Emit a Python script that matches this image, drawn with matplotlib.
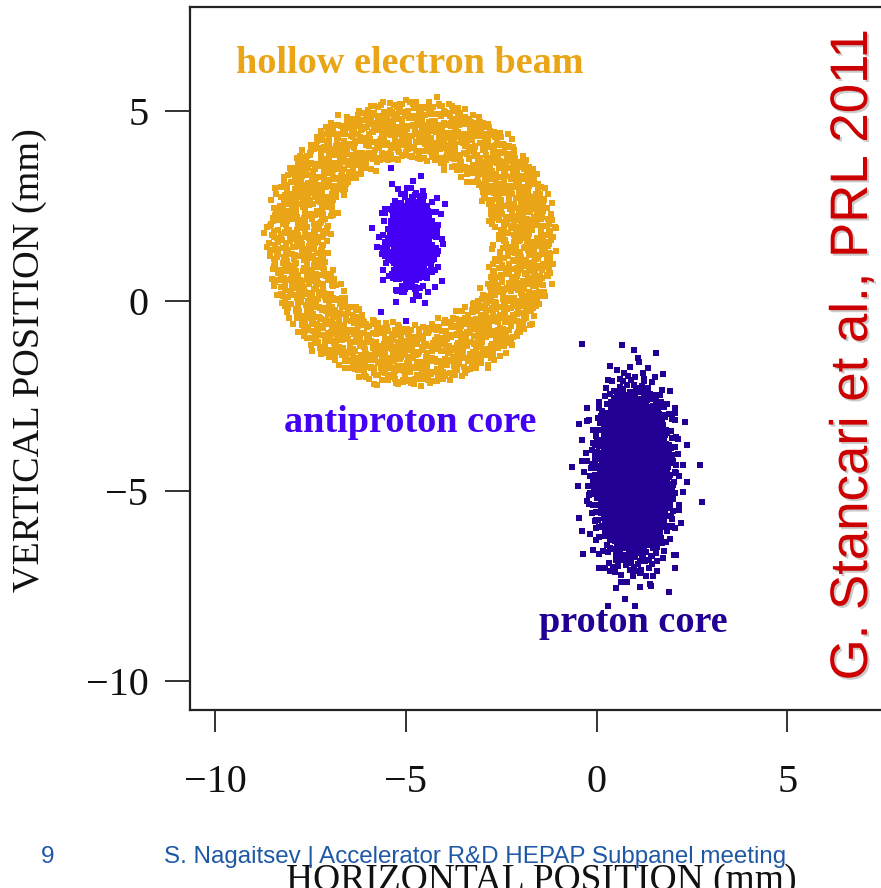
import numpy as np
import matplotlib
matplotlib.use("Agg")
import matplotlib.pyplot as plt
import matplotlib.patheffects as pe

# ---------------- data ----------------
x_ticks = [-10, -5, 0, 5]
y_ticks = [-10, -5, 0, 5]
x_tick_labels = ["\u221210", "\u22125", "0", "5"]
y_tick_labels = ["\u221210", "\u22125", "0", "5"]

# hollow electron beam (annulus): center, inner/outer radius, count
ring_center = [-4.86, 1.53]
ring_radii = [2.22, 3.74]
ring_count = 2300

# antiproton core: center, rms sizes, count
pbar_center = [-4.88, 1.55]
pbar_sigma = [0.32, 0.60]
pbar_count = 600

# proton core: center, rms sizes, count
p_center = [0.96, -4.6]
p_sigma = [0.47, 1.05]
p_count = 2200

labels = ["hollow electron beam", "antiproton core", "proton core"]
label_pos = [[-4.9, 6.25], [-4.88, -3.2], [0.95, -8.45]]

colors = {"ring": "#EAA517", "pbar": "#4300F5", "p": "#220094"}


# ---------------- deterministic low-discrepancy sampling ----------------
def halton(n, base, skip=20):
    out = np.empty(n)
    for k in range(n):
        i = k + skip
        f, r = 1.0, 0.0
        while i > 0:
            f /= base
            r += f * (i % base)
            i //= base
        out[k] = r
    return out


def gauss_cloud(n, center, sigma, skip):
    u1 = np.clip(halton(n, 2, skip), 1e-6, 1.0)
    u2 = halton(n, 3, skip)
    r = np.sqrt(-2.0 * np.log(u1))
    th = 2 * np.pi * u2
    return center[0] + sigma[0] * r * np.cos(th), center[1] + sigma[1] * r * np.sin(th)


def ring_cloud(n, center, radii, bases):
    u1 = halton(n, bases[0])
    u2 = halton(n, bases[1])
    u3 = np.clip(halton(n, bases[2]), 1e-6, 1.0)
    u4 = halton(n, bases[3])
    r = np.sqrt(u1 * (radii[1] ** 2 - radii[0] ** 2) + radii[0] ** 2)
    r = r + 0.08 * np.sqrt(-2 * np.log(u3)) * np.cos(2 * np.pi * u4)
    th = 2 * np.pi * u2
    return center[0] + r * np.cos(th), center[1] + r * np.sin(th)


rx, ry = ring_cloud(ring_count, ring_center, ring_radii, (2, 3, 5, 7))
ax_, ay_ = gauss_cloud(pbar_count, pbar_center, pbar_sigma, 1000)
px, py = gauss_cloud(p_count, p_center, p_sigma, 40000)

# ---------------- figure ----------------
W, H = 881, 888
fig = plt.figure(figsize=(W / 100, H / 100), dpi=100)
fig.patch.set_facecolor("white")

x0, x1 = -10.66, 8.0
y0, y1 = -10.76, 7.72
ppu = 38.15
left_px, bottom_px, top_px = 190, 710, 7.5
width_px = (x1 - x0) * ppu
ax = fig.add_axes([left_px / W, (H - bottom_px) / H, width_px / W, (bottom_px - top_px) / H])
ax.set_xlim(x0, x1)
ax.set_ylim(y0, y1)

ms = 18
ax.scatter(rx, ry, s=ms, marker="s", c=colors["ring"], linewidths=0, zorder=2)
ax.scatter(ax_, ay_, s=ms * 0.85, marker="s", c=colors["pbar"], linewidths=0, zorder=3)
ax.scatter(px, py, s=ms * 0.85, marker="s", c=colors["p"], linewidths=0, zorder=3)

serif = ["Liberation Serif", "DejaVu Serif"]
label_colors = [colors["ring"], colors["pbar"], colors["p"]]
for t, (lx, ly), c in zip(labels, label_pos, label_colors):
    ax.text(lx, ly, t, color=c, fontsize=27.5, fontweight="bold", family=serif,
            ha="center", va="center", zorder=4)

for s in ["left", "bottom", "top", "right"]:
    ax.spines[s].set_linewidth(1.6)
    ax.spines[s].set_color("#222222")

ax.set_xticks(x_ticks)
ax.set_xticklabels(x_tick_labels)
ax.set_yticks(y_ticks)
ax.set_yticklabels(y_tick_labels)
ax.tick_params(axis="x", direction="out", length=16, width=1.3, color="#222222",
               pad=23, labelsize=29)
ax.tick_params(axis="y", direction="out", length=18, width=1.3, color="#222222",
               pad=12, labelsize=29)
for lab in ax.get_xticklabels() + ax.get_yticklabels():
    lab.set_family(serif)
    lab.set_color("#111111")

fig.text(30 / W, 1 - 360 / H, "VERTICAL POSITION (mm)", rotation=90, family=serif,
         fontsize=27.5, ha="center", va="center", color="#111111")
fig.text(541 / W, 1 - 890 / H, "HORIZONTAL POSITION (mm)", family=serif,
         fontsize=27, ha="center", va="baseline", color="#111111")

# footer
footer_c = "#1F58A6"
fig.text(48 / W, 1 - 857 / H, "9", family=["Liberation Sans", "DejaVu Sans"],
         fontsize=17.5, ha="center", va="center", color=footer_c, zorder=10)
fig.text(164 / W, 1 - 857 / H, "S. Nagaitsev | Accelerator R&D HEPAP Subpanel meeting",
         family=["Liberation Sans", "DejaVu Sans"], fontsize=17.4, ha="left",
         va="center", color=footer_c, zorder=10)

# citation
fig.text(853 / W, 1 - 355 / H, "G. Stancari et al., PRL 2011", rotation=90,
         family=["Liberation Sans", "DejaVu Sans"], fontsize=38, ha="center",
         va="center", color="#CC0000", zorder=10,
         path_effects=[pe.withSimplePatchShadow(offset=(1.5, -1.5), shadow_rgbFace="#999999", alpha=0.5)])

fig.savefig("out.png", dpi=100)
